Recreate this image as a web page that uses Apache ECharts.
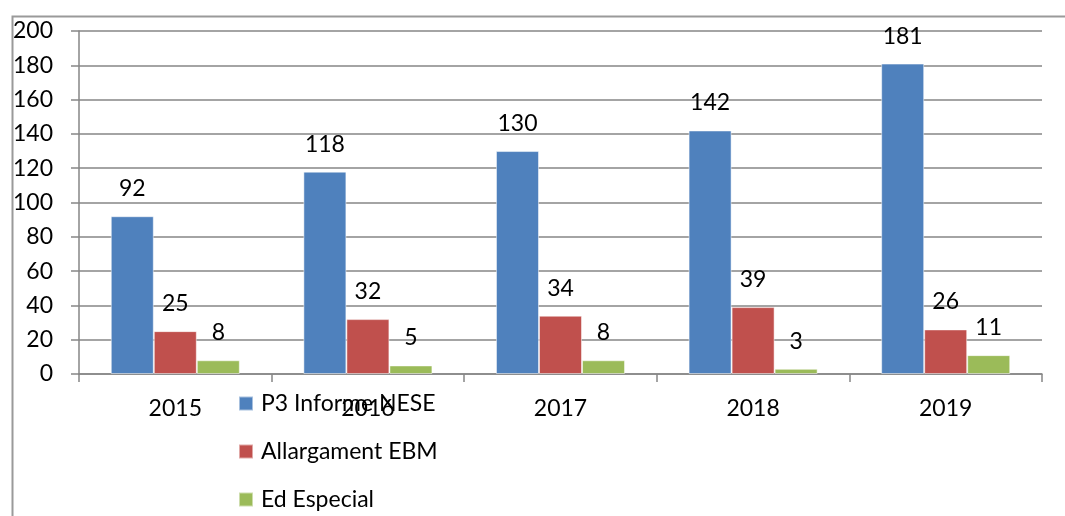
<!DOCTYPE html>
<html>
<head>
<meta charset="utf-8">
<script src="https://cdn.jsdelivr.net/npm/echarts@6/dist/echarts.min.js"></script>
<style>
  html, body { margin: 0; padding: 0; background: #fff; }
  #chart { width: 1065px; height: 516px; }
</style>
</head>
<body>
<div id="chart"></div>
<script>
const years = ['2015', '2016', '2017', '2018', '2019'];
const informeNese = [92, 118, 130, 142, 181];
const allargamentEbm = [25, 32, 34, 39, 26];
const edEspecial = [8, 5, 8, 3, 11];

const font = 'Lato';
const fs = 23;

const chart = echarts.init(document.getElementById('chart'));

const labelStyle = {
    show: true,
    position: 'top',
    distance: 16,
    color: '#000',
    fontSize: fs,
    fontFamily: font
};

function barSeries(name, data, color) {
    return {
        name: name,
        type: 'bar',
        data: data,
        barGap: 0,
        barCategoryGap: '33%',
        itemStyle: { color: color, borderColor: 'rgba(255,255,255,0.5)', borderWidth: 1 },
        label: labelStyle
    };
}

chart.setOption({
    animation: false,
    graphic: [{
        type: 'rect',
        left: 10,
        top: 14,
        shape: { width: 1200, height: 600 },
        style: { fill: 'none', stroke: '#9a9a9a', lineWidth: 2 },
        silent: true,
        z: -1
    }],
    grid: { left: 79, right: 23, top: 31, bottom: 142 },
    legend: {
        orient: 'vertical',
        left: 238,
        top: 392,
        height: 200,
        padding: 0,
        itemWidth: 14,
        itemHeight: 14,
        itemGap: 25,
        icon: 'rect',
        textStyle: { fontSize: fs, fontFamily: font, color: '#000', lineHeight: 22, padding: [0, 0, 0, 3] },
        data: ['P3 Informe NESE', 'Allargament EBM', 'Ed Especial']
    },
    xAxis: {
        type: 'category',
        data: years,
        axisLine: { lineStyle: { color: '#868686', width: 1.5 } },
        axisTick: { show: true, length: 8, lineStyle: { color: '#868686', width: 1.5 } },
        axisLabel: { margin: 23, fontSize: fs, fontFamily: font, color: '#000' }
    },
    yAxis: {
        type: 'value',
        min: 0,
        max: 200,
        interval: 20,
        axisLine: { show: true, lineStyle: { color: '#868686', width: 1.5 } },
        axisTick: { show: true, length: 8, lineStyle: { color: '#868686', width: 1.5 } },
        splitLine: { lineStyle: { color: '#868686', width: 1.5 } },
        axisLabel: { margin: 26, fontSize: fs, fontFamily: font, color: '#000' }
    },
    series: [
        barSeries('P3 Informe NESE', informeNese, '#4F81BD'),
        barSeries('Allargament EBM', allargamentEbm, '#C0504D'),
        barSeries('Ed Especial', edEspecial, '#9BBB59')
    ]
});
</script>
</body>
</html>
